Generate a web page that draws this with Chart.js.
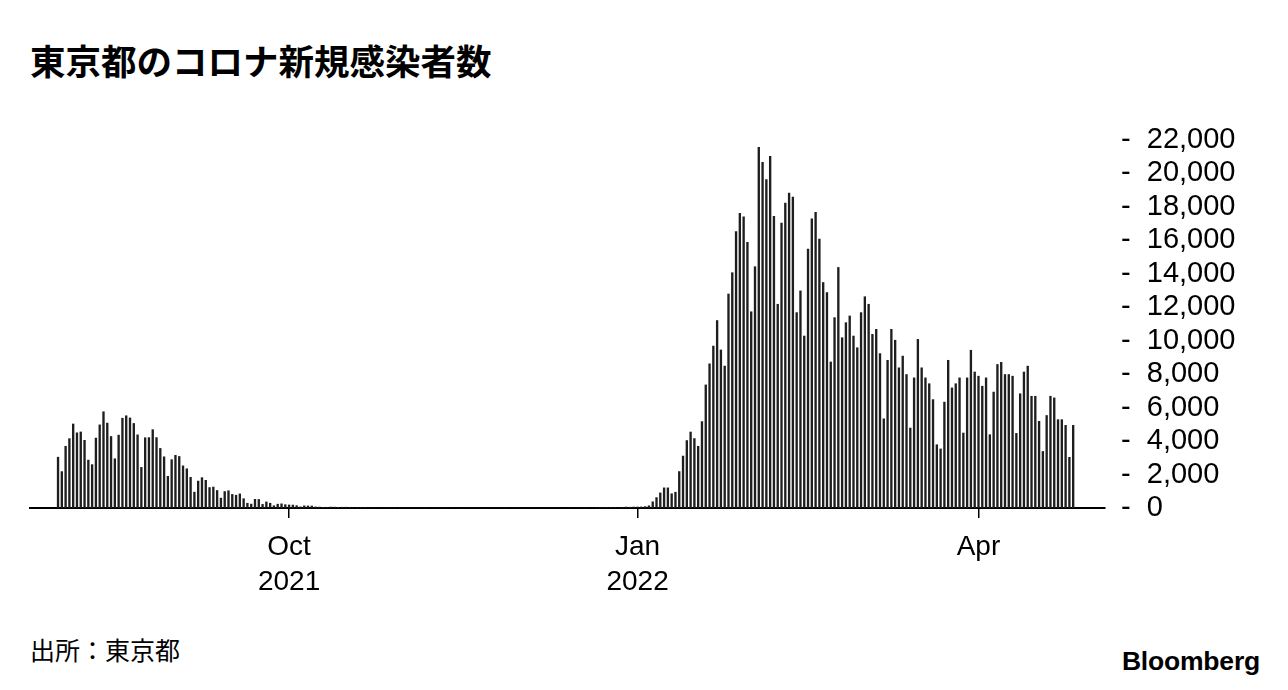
<!DOCTYPE html>
<html><head><meta charset="utf-8">
<script src="https://cdn.jsdelivr.net/npm/chart.js@4"></script>
<style>
html,body{margin:0;padding:0;background:#fff;width:1288px;height:690px;overflow:hidden;}
#title{position:absolute;left:30px;top:42px;font:bold 35.5px/1 "Noto Sans CJK JP";color:#000;white-space:nowrap;}
#source{position:absolute;left:30px;top:637px;font:25px/1 "Noto Sans CJK JP";color:#000;white-space:nowrap;}
#logo{position:absolute;right:28px;top:648px;font:bold 26.5px/1 "Liberation Sans";color:#000;letter-spacing:-0.2px;white-space:nowrap;}
#wrap{position:absolute;left:0;top:100px;width:1288px;height:513px;}
</style></head><body>
<div id="title">東京都のコロナ新規感染者数</div>
<div id="wrap"><canvas id="c" width="1288" height="513"></canvas></div>
<div id="source">出所：東京都</div>
<div id="logo">Bloomberg</div>
<script>
// Daily new COVID-19 cases in Tokyo, by month
const months = ['2021-08','2021-09','2021-10','2021-11','2021-12','2022-01','2022-02','2022-03','2022-04'];
const aug2021 = [3058,2195,3709,4166,5042,4515,4566,4066,2884,2612,4200,4989,5773,5094,4295,2962,4377,5386,5534,5405,5074,4392,2447,4220,4228,4704,4227,3581,3081,1915,2909];
const sep2021 = [3168,3099,2539,2362,1853,968,1629,1834,1675,1242,1273,1067,611,1004,1052,831,782,862,575,302,253,537,531,235,382,302,154,248,267,218];
const oct2021 = [200,196,161,87,149,144,138,82,74,60,49,77,72,62,66,67,40,29,36,41,36,26,32,19,17,29,36,21,28,23,22];
const nov2021 = [9,18,18,17,20,27,17,8,20,26,26,21,29,8,7,17,21,20,25,23,19,6,10,21,13,20,22,14,7,22];
const dec2021 = [15,10,18,15,22,11,15,18,14,16,20,12,7,27,21,23,20,31,17,12,33,37,35,44,37,37,25,46,76,64,78];
const jan2022 = [79,84,103,151,390,641,922,1224,1223,871,962,2198,3124,4051,4561,4172,3709,5185,7377,8638,9699,11227,9468,8503,12813,14086,16538,17631,17433,15895,11751];
const feb2022 = [14445,21576,20679,19650,21050,17450,12200,17050,18250,18850,18600,11700,13000,10300,15500,17300,17700,16100,13500,12900,8750,11400,14400,10200,11100,11500,10300,9600];
const mar2022 = [11700,12650,12200,10400,10700,9250,5350,8850,10700,10050,8400,9100,8000,4800,7800,10100,8400,7800,7450,6500,3800,3550,6350,8850,7200,7450,7800,4500,7800,9450,8150];
const apr2022 = [7900,7300,7800,4400,6950,8600,8730,8000,8000,7900,4480,6850,8150,8500,6700,6700,5200,3400,5550,6700,6600,5300,5300,4960,3050,4960];
const monthly = [aug2021,sep2021,oct2021,nov2021,dec2021,jan2022,feb2022,mar2022,apr2022];

const tickDates = ['2021-10-01','2022-01-01','2022-04-01'];
const tickLabels = [['Oct','2021'],['Jan','2022'],['Apr']];
const yTicks = [0,2000,4000,6000,8000,10000,12000,14000,16000,18000,20000,22000];

// categories (dates) and values
const dates = [];
const cases = [];
monthly.forEach((arr, m) => {
  arr.forEach((v, d) => {
    dates.push(months[m] + '-' + String(d + 1).padStart(2, '0'));
    cases.push(v);
  });
});
const tickIdx = tickDates.map(d => dates.indexOf(d));

const FONT = '"Liberation Sans", Arial, sans-serif';

new Chart(document.getElementById('c'), {
  type: 'bar',
  data: {
    datasets: [{
      data: cases.map((v, i) => ({x: i, y: v})),
      backgroundColor: '#1e1e1e',
      borderWidth: 0,
      barPercentage: 0.62,
      categoryPercentage: 1
    }]
  },
  options: {
    responsive: false,
    animation: false,
    devicePixelRatio: 1,
    layout: {padding: {top: 40, left: 30, right: 0, bottom: 1}},
    plugins: {legend: {display: false}, tooltip: {enabled: false}},
    scales: {
      x: {
        type: 'linear',
        offset: false,
        min: -7.4,
        max: 276.4,
        afterBuildTicks: s => { s.ticks = tickIdx.map(v => ({value: v})); },
        ticks: {
          autoSkip: false,
          maxRotation: 0,
          padding: 12,
          color: '#000',
          font: {family: FONT, size: 28, lineHeight: 1.25},
          callback: v => { const k = tickIdx.indexOf(v); return k >= 0 ? tickLabels[k] : ''; }
        },
        grid: {display: true, offset: false, drawOnChartArea: false, drawTicks: true, tickLength: 10, color: '#000', lineWidth: 1.5},
        border: {display: true, color: '#000', width: 2}
      },
      y: {
        position: 'right',
        min: 0,
        max: 22000,
        afterBuildTicks: s => { s.ticks = yTicks.map(v => ({value: v})); },
        afterFit: s => { s.width = 183; },
        ticks: {
          autoSkip: false,
          padding: 16,
          color: '#000',
          font: {family: FONT, size: 29},
          callback: v => '-  ' + v.toLocaleString('en-US')
        },
        grid: {display: false, drawTicks: false},
        border: {display: false}
      }
    }
  }
});
</script>
</body></html>
